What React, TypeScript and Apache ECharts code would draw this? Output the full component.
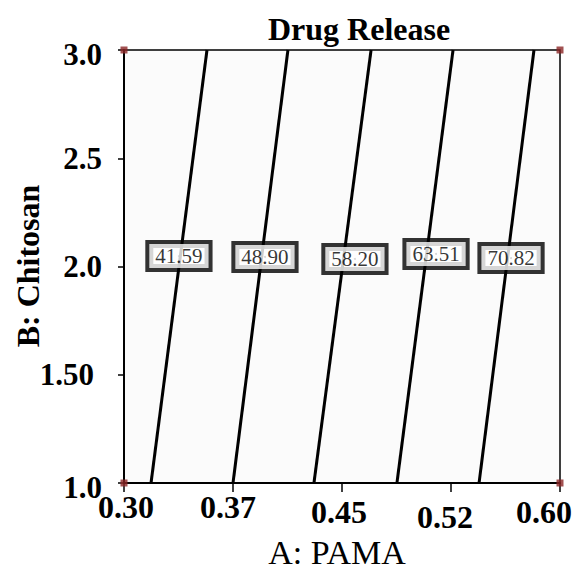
import React, { useEffect, useRef } from "react";
import * as echarts from "echarts";

const xTickLabels = ["0.30", "0.37", "0.45", "0.52", "0.60"];
const yTickLabels = ["1.0", "1.50", "2.0", "2.5", "3.0"];
const contourValues = ["41.59", "48.90", "58.20", "63.51", "70.82"];
// A value where each contour crosses B = 1.0 and B = 3.0
const contourAatB1 = [0.3186, 0.375, 0.4307, 0.4878, 0.5443];
const contourAatB3 = [0.3571, 0.4128, 0.47, 0.5264, 0.5821];
// label anchor points (A, B)
const labelA = [0.3378, 0.397, 0.4589, 0.5147, 0.5663];
const labelB = [2.048, 2.044, 2.035, 2.058, 2.039];
// design corner points
const designA = [0.3, 0.3, 0.6, 0.6];
const designB = [1.0, 3.0, 1.0, 3.0];

const SERIF = '"Liberation Serif", "Times New Roman", serif';

export default function App() {
  const ref = useRef<HTMLDivElement>(null);
  useEffect(() => {
    if (!ref.current) return;
    const chart = echarts.init(ref.current, null, { renderer: "svg" });
    const xTick = { fontFamily: SERIF, fontSize: 32, fontWeight: "bold", color: "#000" };
    const yTick = { fontFamily: SERIF, fontSize: 31, fontWeight: "bold", color: "#000" };
    const lineSeries = contourValues.map((v, i) => ({
      type: "line",
      name: v,
      data: [
        [contourAatB1[i], 1.0],
        [contourAatB3[i], 3.0],
      ],
      symbol: "none",
      lineStyle: { color: "#000", width: 3 },
      z: 2,
    }));
    chart.setOption({
      animation: false,
      backgroundColor: "#fff",
      title: {
        text: "Drug Release",
        left: 263,
        top: 8,
        textStyle: { fontFamily: SERIF, fontSize: 32, fontWeight: "bold", color: "#000" },
      },
      grid: {
        left: 124,
        right: 17,
        top: 50,
        bottom: 89,
        show: true,
        borderColor: "#000",
        borderWidth: 1.5,
        backgroundColor: "#fbfbfb",
      },
      xAxis: {
        type: "value",
        min: 0.3,
        max: 0.6,
        interval: 0.075,
        splitLine: { show: false },
        axisLine: { lineStyle: { color: "#000", width: 2 } },
        axisTick: { show: true, length: 9, lineStyle: { color: "#000", width: 1.5 } },
        axisLabel: {
          margin: 8,
          formatter: (v: number) => {
            const i = Math.round((v - 0.3) / 0.075);
            return `{t${i}|${xTickLabels[i]}}`;
          },
          rich: {
            t0: { ...xTick, padding: [0, 0, 0, 4] },
            t1: { ...xTick, padding: [0, 10, 0, 0] },
            t2: { ...xTick, padding: [5, 6, 0, 0] },
            t3: { ...xTick, padding: [10, 12, 0, 0] },
            t4: { ...xTick, padding: [5, 32, 0, 0] },
          },
        },
      },
      yAxis: {
        type: "value",
        min: 1,
        max: 3,
        interval: 0.5,
        splitLine: { show: false },
        axisLine: { lineStyle: { color: "#000", width: 2 } },
        axisTick: { show: true, length: 6, lineStyle: { color: "#000", width: 1.5 } },
        axisLabel: {
          margin: 22,
          formatter: (v: number) => {
            const i = Math.round((v - 1) / 0.5);
            return `{t${i}|${yTickLabels[i]}}`;
          },
          rich: {
            t0: { ...yTick, padding: [8, 0, 0, 0] },
            t1: { ...yTick, padding: [0, 8, 0, 0] },
            t2: { ...yTick },
            t3: { ...yTick },
            t4: { ...yTick, padding: [8, 0, 0, 0] },
          },
        },
      },
      graphic: [
        {
          type: "text",
          x: 337,
          y: 552,
          style: {
            text: "A: PAMA",
            font: `34px ${SERIF}`,
            fill: "#000",
            textAlign: "center",
            textVerticalAlign: "middle",
          },
        },
        {
          type: "text",
          x: 28,
          y: 266,
          rotation: Math.PI / 2,
          style: {
            text: "B: Chitosan",
            font: `bold 32px ${SERIF}`,
            fill: "#000",
            textAlign: "center",
            textVerticalAlign: "middle",
          },
        },
      ],
      series: [
        ...lineSeries,
        {
          type: "scatter",
          data: labelA.map((a, i) => [a, labelB[i], contourValues[i]]),
          symbolSize: 2,
          itemStyle: { color: "#000" },
          z: 5,
          label: {
            show: true,
            position: [1, 1],
            align: "center",
            verticalAlign: "middle",
            formatter: (p: any) => p.value[2],
            fontFamily: SERIF,
            fontSize: 21,
            color: "#000",
            backgroundColor: "#fff",
            borderColor: "#000",
            borderWidth: 4,
            padding: [2, 6, 1, 6],
          },
          emphasis: { disabled: true },
        },
        {
          type: "scatter",
          data: designA.map((a, i) => [a, designB[i]]),
          symbol: "rect",
          symbolSize: 7,
          itemStyle: { color: "#8b2525" },
          clip: false,
          z: 6,
        },
      ],
    });
    return () => chart.dispose();
  }, []);
  return (
    <div
      ref={ref}
      style={{ position: "fixed", left: 0, top: 0, width: 577, height: 572 }}
    />
  );
}
